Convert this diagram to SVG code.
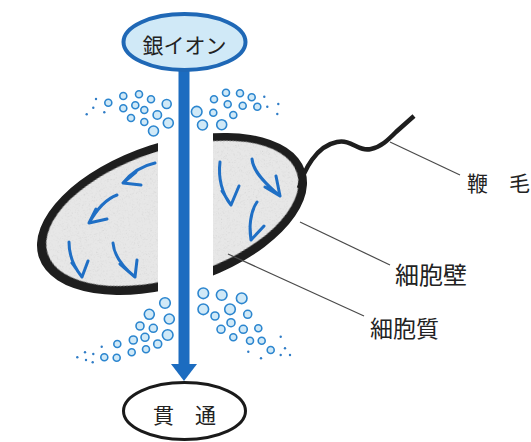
<svg xmlns="http://www.w3.org/2000/svg" width="531" height="442" viewBox="0 0 531 442">
  <style>
    .lbl { font-family: "Noto Sans CJK JP", "Noto Sans", sans-serif; fill: #222; }
    .ion { fill: #d0e9f7; stroke: #2c86cf; stroke-width: 1.6; }
    .dot { fill: #2f7cc6; }
    .flow { fill: none; stroke: #1f6fc5; stroke-width: 3; stroke-linecap: round; stroke-linejoin: round; }
    .leader { fill: none; stroke: #4a4a4a; stroke-width: 1.2; }
  </style>
  <defs>
    <filter id="grain" x="0" y="0" width="100%" height="100%">
      <feTurbulence type="fractalNoise" baseFrequency="0.85" numOctaves="2" seed="7" result="noise"/>
      <feColorMatrix in="noise" type="matrix" values="0 0 0 0 0.62  0 0 0 0 0.62  0 0 0 0 0.62  2.4 0 0 0 -1.3" result="specks"/>
      <feComposite in="specks" in2="SourceGraphic" operator="in" result="clipped"/>
      <feMerge><feMergeNode in="SourceGraphic"/><feMergeNode in="clipped"/></feMerge>
    </filter>
    <clipPath id="halves">
      <rect x="0" y="0" width="158" height="442"/>
      <rect x="213" y="0" width="318" height="442"/>
    </clipPath>
  </defs>
  <rect width="531" height="442" fill="#fff"/>

  <!-- bacterium cell, split by the ion channel -->
  <g id="cell">
    <g clip-path="url(#halves)">
      <ellipse cx="172" cy="214" rx="140" ry="72" transform="rotate(-18 172 214)" fill="#1e1e1e"/>
      <ellipse cx="172.5" cy="213.5" rx="131" ry="63.5" transform="rotate(-18 172 214)" fill="#e7e7e7" filter="url(#grain)"/>
    </g>
    <!-- flagellum -->
    <path d="M299,188 C304,170 316,146 337,142 C352,139 358,152 371,149 C381,147 388,140 396,132 L414,116" fill="none" stroke="#1e1e1e" stroke-width="4.5"/>
    <!-- ions moving inside the cytoplasm -->
    <g id="inner-flow">
      <path class="flow" d="M155,163 C141,166 131,173 123,183 M136,172 L123,183 L141,185"/>
      <path class="flow" d="M117,195 C106,199 97,209 89,223 M96,209 L89,223 L107,219"/>
      <path class="flow" d="M69,242 C69,254 73,266 82,277 M72,263 L82,277 L88,261"/>
      <path class="flow" d="M113,243 C114,256 124,268 135,277 M120,264 L135,277 L137,260"/>
      <path class="flow" d="M220,162 C218,178 222,194 231,205 M222,191 L231,205 L239,186"/>
      <path class="flow" d="M252,159 C253,170 262,181 280,196 M265,187 L280,196 L276,176"/>
      <path class="flow" d="M257,202 C250,212 249,228 251,240 M250,226 L251,240 L264,226"/>
    </g>
  </g>

  <!-- silver ions spreading above the cell -->
  <g id="ions-top">
    <circle class="ion" cx="108.3" cy="102.7" r="3.5"/>
    <circle class="ion" cx="123.3" cy="96" r="3.5"/>
    <circle class="ion" cx="139" cy="94.3" r="3.5"/>
    <circle class="ion" cx="151" cy="99.3" r="3.5"/>
    <circle class="ion" cx="123.3" cy="108.3" r="3.5"/>
    <circle class="ion" cx="135.3" cy="105.3" r="3.5"/>
    <circle class="ion" cx="144.3" cy="110" r="3.5"/>
    <circle class="ion" cx="166.7" cy="104" r="4.5"/>
    <circle class="ion" cx="131" cy="118" r="3.5"/>
    <circle class="ion" cx="144.3" cy="122" r="3.5"/>
    <circle class="ion" cx="157.3" cy="115" r="4.2"/>
    <circle class="ion" cx="168.3" cy="123" r="5"/>
    <circle class="ion" cx="153.5" cy="131" r="5"/>
    <circle class="ion" cx="196.7" cy="111.7" r="5.3"/>
    <circle class="ion" cx="214" cy="99.3" r="3.5"/>
    <circle class="ion" cx="226" cy="92.7" r="3.5"/>
    <circle class="ion" cx="240" cy="93.3" r="3.5"/>
    <circle class="ion" cx="251.7" cy="97.3" r="3.5"/>
    <circle class="ion" cx="213.3" cy="112.7" r="3.5"/>
    <circle class="ion" cx="227.7" cy="104.3" r="3.5"/>
    <circle class="ion" cx="242.7" cy="105.7" r="3.5"/>
    <circle class="ion" cx="257.3" cy="106.7" r="3.5"/>
    <circle class="ion" cx="233.3" cy="115" r="3.5"/>
    <circle class="ion" cx="202.5" cy="125" r="5"/>
    <circle class="ion" cx="221.7" cy="124.7" r="5"/>
    <circle class="dot" cx="96" cy="99" r="1.2"/>
    <circle class="dot" cx="93.3" cy="107.7" r="1.2"/>
    <circle class="dot" cx="86.7" cy="114.3" r="1.2"/>
    <circle class="dot" cx="104.3" cy="112.3" r="1.2"/>
    <circle class="dot" cx="264.3" cy="96.7" r="1.2"/>
    <circle class="dot" cx="267.3" cy="106.7" r="1.2"/>
    <circle class="dot" cx="278.3" cy="104" r="1.2"/>
    <circle class="dot" cx="277.3" cy="114" r="1.2"/>
  </g>

  <!-- silver ions leaving below the cell -->
  <g id="ions-bottom">
    <circle class="ion" cx="165" cy="303" r="5.3"/>
    <circle class="ion" cx="149.3" cy="314.3" r="5"/>
    <circle class="ion" cx="169.3" cy="319" r="5"/>
    <circle class="ion" cx="140" cy="326" r="4"/>
    <circle class="ion" cx="153.3" cy="328.3" r="4"/>
    <circle class="ion" cx="167.7" cy="335" r="5.3"/>
    <circle class="ion" cx="133.3" cy="340" r="4"/>
    <circle class="ion" cx="145" cy="337.3" r="4"/>
    <circle class="ion" cx="157.7" cy="344" r="4"/>
    <circle class="ion" cx="117.3" cy="344" r="3.5"/>
    <circle class="ion" cx="131.7" cy="352.3" r="3.5"/>
    <circle class="ion" cx="146" cy="349.3" r="3.5"/>
    <circle class="ion" cx="104.3" cy="357.3" r="3.5"/>
    <circle class="ion" cx="116.7" cy="357.7" r="3.5"/>
    <circle class="ion" cx="203.3" cy="293.3" r="5.3"/>
    <circle class="ion" cx="221.7" cy="295" r="5.3"/>
    <circle class="ion" cx="241.7" cy="298.3" r="5.3"/>
    <circle class="ion" cx="203.3" cy="309.3" r="5.3"/>
    <circle class="ion" cx="215" cy="316" r="4"/>
    <circle class="ion" cx="230" cy="309.3" r="5.3"/>
    <circle class="ion" cx="247.7" cy="314.3" r="4"/>
    <circle class="ion" cx="231" cy="322.7" r="4"/>
    <circle class="ion" cx="221" cy="329.3" r="4"/>
    <circle class="ion" cx="243.3" cy="329.3" r="4"/>
    <circle class="ion" cx="258.3" cy="328.3" r="3.5"/>
    <circle class="ion" cx="233.3" cy="337.3" r="3.5"/>
    <circle class="ion" cx="250" cy="340.7" r="3.5"/>
    <circle class="ion" cx="261.7" cy="340.7" r="3.5"/>
    <circle class="ion" cx="270.7" cy="350" r="3.5"/>
    <circle class="dot" cx="77.3" cy="357.3" r="1.2"/>
    <circle class="dot" cx="85" cy="352.3" r="1.2"/>
    <circle class="dot" cx="93.3" cy="354" r="1.2"/>
    <circle class="dot" cx="86" cy="360" r="1.2"/>
    <circle class="dot" cx="92.7" cy="362.3" r="1.2"/>
    <circle class="dot" cx="101.7" cy="346.7" r="1.2"/>
    <circle class="dot" cx="248.3" cy="351.7" r="1.2"/>
    <circle class="dot" cx="261" cy="358.3" r="1.2"/>
    <circle class="dot" cx="280.7" cy="336.7" r="1.2"/>
    <circle class="dot" cx="285" cy="348.3" r="1.2"/>
    <circle class="dot" cx="290" cy="355" r="1.2"/>
    <circle class="dot" cx="280.7" cy="355" r="1.2"/>
  </g>

  <!-- connectors -->
  <g id="connectors">
    <rect x="178.5" y="68" width="11" height="297" fill="#1c6cc0"/>
    <polygon points="171,364 197,364 184,381" fill="#1c6cc0"/>
    <path class="leader" d="M390,142 L460,175"/>
    <path class="leader" d="M300,222 L390,265"/>
    <path class="leader" d="M228,254 L364,316"/>
  </g>

  <g id="silver-ion">
    <ellipse cx="184.5" cy="42" rx="61" ry="28" fill="#d0e9f7" stroke="#1f68b6" stroke-width="4"/>
    <text class="lbl" x="184.5" y="53" font-size="21" text-anchor="middle">銀イオン</text>
  </g>

  <g id="penetration">
    <ellipse cx="184.5" cy="411" rx="61" ry="28.5" fill="#fff" stroke="#1a1a1a" stroke-width="3"/>
    <text class="lbl" x="184.5" y="423" font-size="21" text-anchor="middle">貫　通</text>
  </g>

  <g id="flagellum-label">
    <text class="lbl" x="467" y="191" font-size="21">鞭　毛</text>
  </g>
  <g id="cell-wall-label">
    <text class="lbl" x="395" y="284" font-size="24">細胞壁</text>
  </g>
  <g id="cytoplasm-label">
    <text class="lbl" x="370" y="337" font-size="23">細胞質</text>
  </g>
</svg>
